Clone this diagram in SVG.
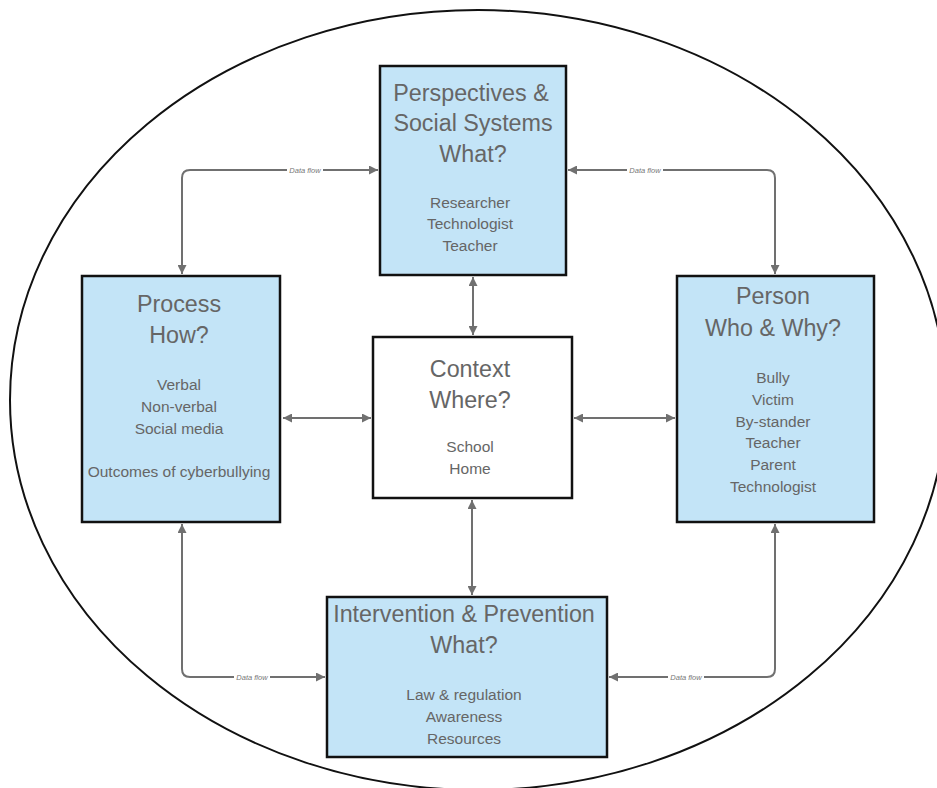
<svg xmlns="http://www.w3.org/2000/svg" width="937" height="788" viewBox="0 0 937 788">
<style>
.box{fill:#C3E4F7;stroke:#111;stroke-width:2.5}
.wbox{fill:#fff;stroke:#111;stroke-width:2.5}
.t{font-family:"Liberation Sans",Arial,sans-serif;fill:#666;text-anchor:middle}
.h{font-size:23.3px}
.b{font-size:15.5px}
.c{fill:none;stroke:#707070;stroke-width:2}
.lbl{font-family:"Liberation Sans",Arial,sans-serif;font-size:7.5px;font-style:italic;fill:#777;text-anchor:middle}
</style>
<defs>
<marker id="ah" viewBox="0 0 10 10" refX="10" refY="5" markerWidth="12" markerHeight="9" markerUnits="userSpaceOnUse" orient="auto-start-reverse">
<path d="M0,0 L10,5 L0,10 Z" fill="#707070"/>
</marker>
</defs>
<rect width="937" height="788" fill="#fff"/>
<ellipse cx="478" cy="400" rx="468" ry="390" fill="none" stroke="#111" stroke-width="2"/>
<g id="connectors">
<path class="c" d="M473,277 V335" marker-start="url(#ah)" marker-end="url(#ah)"/>
<path class="c" d="M283,418 H371" marker-start="url(#ah)" marker-end="url(#ah)"/>
<path class="c" d="M574,418 H675" marker-start="url(#ah)" marker-end="url(#ah)"/>
<path class="c" d="M472,500 V595" marker-start="url(#ah)" marker-end="url(#ah)"/>
<path class="c" d="M378,170 H190 Q182,170 182,178 V274" marker-start="url(#ah)" marker-end="url(#ah)"/>
<path class="c" d="M568,170 H767 Q775,170 775,178 V274" marker-start="url(#ah)" marker-end="url(#ah)"/>
<path class="c" d="M182,524 V669 Q182,677 190,677 H325" marker-start="url(#ah)" marker-end="url(#ah)"/>
<path class="c" d="M775,524 V669 Q775,677 767,677 H609" marker-start="url(#ah)" marker-end="url(#ah)"/>
<rect x="287" y="166" width="36" height="8" fill="#fff"/>
<text class="lbl" x="305" y="172.5">Data flow</text>
<rect x="627" y="166" width="36" height="8" fill="#fff"/>
<text class="lbl" x="645" y="172.5">Data flow</text>
<rect x="234" y="673" width="36" height="8" fill="#fff"/>
<text class="lbl" x="252" y="679.5">Data flow</text>
<rect x="668" y="673" width="36" height="8" fill="#fff"/>
<text class="lbl" x="686" y="679.5">Data flow</text>
</g>
<g id="perspectives">
<rect class="box" x="380" y="66" width="186" height="209"/>
<text class="t h" x="471" y="101">Perspectives &amp;</text>
<text class="t h" x="473" y="131">Social Systems</text>
<text class="t h" x="473" y="162">What?</text>
<text class="t b" x="470" y="208">Researcher</text>
<text class="t b" x="470" y="229">Technologist</text>
<text class="t b" x="470" y="251">Teacher</text>
</g>
<g id="process">
<rect class="box" x="82" y="276" width="198" height="246"/>
<text class="t h" x="179" y="312">Process</text>
<text class="t h" x="179" y="343">How?</text>
<text class="t b" x="179" y="390">Verbal</text>
<text class="t b" x="179" y="412">Non-verbal</text>
<text class="t b" x="179" y="434">Social media</text>
<text class="t b" x="179" y="477">Outcomes of cyberbullying</text>
</g>
<g id="person">
<rect class="box" x="677" y="276" width="197" height="246"/>
<text class="t h" x="773" y="304">Person</text>
<text class="t h" x="773" y="336">Who &amp; Why?</text>
<text class="t b" x="773" y="383">Bully</text>
<text class="t b" x="773" y="405">Victim</text>
<text class="t b" x="773" y="427">By-stander</text>
<text class="t b" x="773" y="448">Teacher</text>
<text class="t b" x="773" y="470">Parent</text>
<text class="t b" x="773" y="492">Technologist</text>
</g>
<g id="context">
<rect class="wbox" x="373" y="337" width="199" height="161"/>
<text class="t h" x="470" y="377">Context</text>
<text class="t h" x="470" y="408">Where?</text>
<text class="t b" x="470" y="452">School</text>
<text class="t b" x="470" y="474">Home</text>
</g>
<g id="intervention">
<rect class="box" x="327" y="597" width="280" height="160"/>
<text class="t h" x="464" y="622">Intervention &amp; Prevention</text>
<text class="t h" x="464" y="653">What?</text>
<text class="t b" x="464" y="700">Law &amp; regulation</text>
<text class="t b" x="464" y="722">Awareness</text>
<text class="t b" x="464" y="744">Resources</text>
</g>
</svg>
